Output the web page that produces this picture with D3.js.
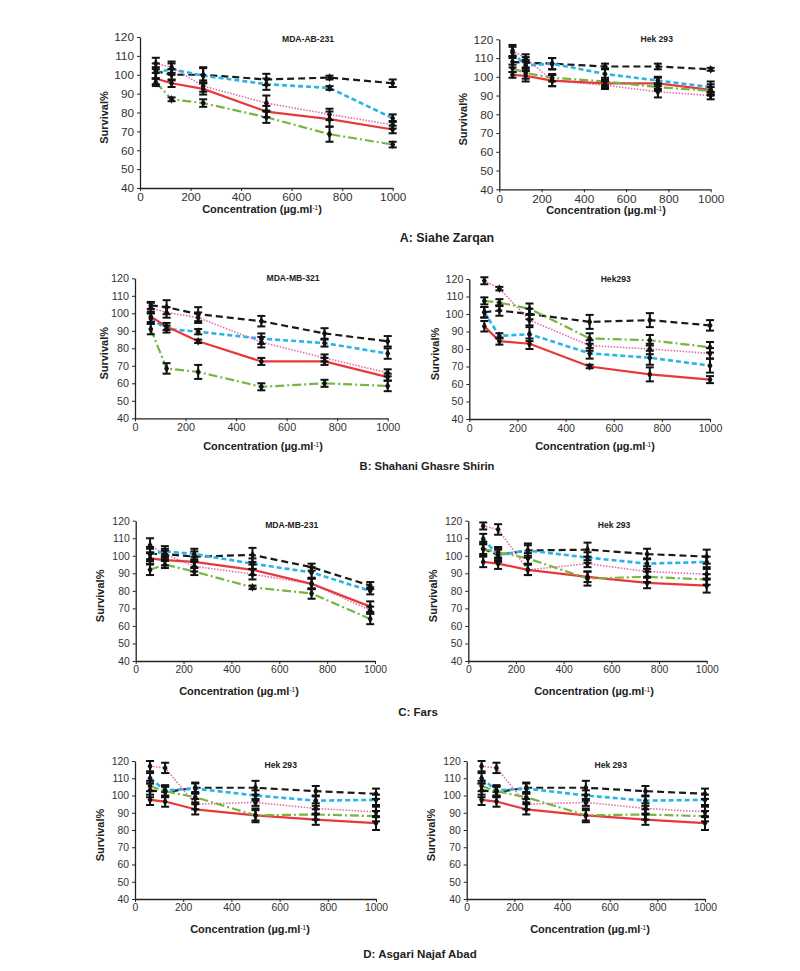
<!DOCTYPE html>
<html><head><meta charset="utf-8">
<script src="https://cdn.jsdelivr.net/npm/d3@7"></script>
<style>body{margin:0;background:#fff} text{font-family:"Liberation Sans",Arial,sans-serif}</style>
</head><body><svg id="c" width="800" height="971"></svg>
<script>
// ---------- DATA ----------
const doses = [62.5, 125, 250, 500, 750, 1000];
const dosesC = [60, 122, 245, 488, 735, 980];
const yTicks = [40, 50, 60, 70, 80, 90, 100, 110, 120];
const xTicks = [0, 200, 400, 600, 800, 1000];
const seriesNames = ["black", "cyan", "pink", "red", "green"];
const panelTitles = ["MDA-AB-231", "Hek 293", "MDA-MB-321", "Hek293", "MDA-MB-231", "Hek 293", "Hek 293", "Hek 293"];
const captions = ["A: Siahe Zarqan", "B: Shahani Ghasre Shirin", "C: Fars", "D: Asgari Najaf Abad"];

// values per series: black, cyan, pink, red, green
const aLeftVals = [[102,100,100,97.5,98.5,95.5],[101,103,99.5,95,93,77],[106,104,94,85,79,73.5],[98,95.5,92.5,80.5,76.5,71],[96,87,85,77.5,68.5,63]];
const aLeftErr  = [[4,3,4,3,1,2],[3,3,4,3,1,2],[3,3,3,4,3,2],[3,2,3,3,4,2],[2,1,2,3,4,1.5]];
const aRightVals = [[108,107.5,107,105.5,105.5,104],[113,106,107,101.5,98,94.5],[114,110,98,95.5,92,90],[101,100.5,98,96.5,96.5,93],[104.5,102,99.5,97.5,94.5,92.5]];
const aRightErr  = [[3,3,3,1.5,1.5,0.8],[3,3,3,3,2,3],[3,2,3,2,3,2],[1.5,3,3,2,3,3],[2,3,2,2,2,2]];
const bLeftVals = [[104.5,103.5,99.5,95.5,88.5,84],[97,91,89.5,85.5,83,77],[103,100.5,97.5,83.5,74.5,66],[98,92.5,84,72.5,72.5,63.5],[91,68.5,66.5,58,60,58.5]];
const bLeftErr  = [[2,4,4,3,3,3],[3,2,1.5,3,2,3],[3,3,3,3,2,2],[3,2,1,2,2,2],[3,3,4,2,2,3]];
const bRightVals = [[101,102,100,95.5,96.5,93.5],[101,87.5,88.5,77.5,75,70.5],[119,114.5,96.5,82,80,77.5],[93,84.5,83,70,65.5,62.5],[107.5,106.5,103,86,85,81]];
const bRightErr  = [[3,3,3,4,4,3],[3,1.5,4,3,4,4],[2,1,3,3,3,3],[3,2,3,1,4,2],[2,2,3,3,3,3]];
const cLeftVals = [[101,101,99.5,100.5,93.5,83],[101,102.5,101,95.5,90.5,80],[106,101,94,89.5,84,69],[98.5,97.5,96.5,92,84,71],[92,95,91,82,78.5,64]];
const cLeftErr  = [[4,3,3,4,2,2],[3,3,3,3,3,2],[4,2,3,3,3,2],[3,3,3,3,3,3],[3,2,2,1,3,3]];
const cRightVals = [[104,100.5,103,103.5,101,99.5],[109.5,100.5,103,99,95.5,96.5],[117,115,92,95.5,91,89.5],[96.5,95.5,92,88,84.5,83],[104,102,98.5,87,88,86.5]];
const cRightErr  = [[4,4,4,4,3,4],[3,3,3,3,3,3],[2,3,3,2,3,3],[3,3,3,3,3,4],[3,3,3,4,3,3]];
const dLeftVals = [[103,102,104.5,104.5,102.5,101],[110,103,104,100,97,97.5],[117,116,95,96,92.5,90.5],[97.5,96.5,92,88.5,86,84],[105.5,102.5,99,88.5,89,88]];
const dLeftErr  = [[4,3,3,4,3,3],[3,3,3,3,3,3],[3,3,3,2,3,3],[3,3,3,3,3,4],[3,3,3,4,3,3]];
const dRightVals = [[103,102,104.5,104.5,102.5,101],[110,103,104,100,97,97.5],[117,116,95,96,92.5,90.5],[97.5,96.5,92,88.5,86,84],[105.5,102.5,99,88.5,89,88]];
const dRightErr  = [[4,3,3,4,3,3],[3,3,3,3,3,3],[3,3,3,2,3,3],[3,3,3,3,3,4],[3,3,3,4,3,3]];

// ---------- STYLES / LAYOUT ----------
const styles = [
  {color:"#1a1a1a", width:2.2, dash:"7,4"},
  {color:"#29b4e6", width:2.6, dash:"5,3"},
  {color:"#e36bb0", width:1.6, dash:"1.5,1.5"},
  {color:"#e8383a", width:2.2, dash:null},
  {color:"#78b443", width:2.2, dash:"9,3,2,3"}
];
const panels = [
  {vals:aLeftVals, errs:aLeftErr, xs:doses, x0:140, x1:392.7, yT:37, yB:188, fs:11.8, tX:308, tY:39, ylX:104, xtX:262, xtY:209},
  {vals:aRightVals, errs:aRightErr, xs:doses, x0:499.3, x1:710.7, yT:39.3, yB:189.3, fs:11.8, tX:656.7, tY:39, ylX:463, xtX:606, xtY:210},
  {vals:bLeftVals, errs:bLeftErr, xs:doses, x0:135, x1:387.7, yT:278.3, yB:418.3, fs:10.8, tX:293, tY:278, ylX:104, xtX:263, xtY:446},
  {vals:bRightVals, errs:bRightErr, xs:doses, x0:469.3, x1:710, yT:279, yB:419, fs:10.6, tX:615.7, tY:279, ylX:435, xtX:595, xtY:446.5},
  {vals:cLeftVals, errs:cLeftErr, xs:dosesC, x0:135.7, x1:375, yT:520.7, yB:661, fs:10.4, tX:291.7, tY:525, ylX:100, xtX:239, xtY:691},
  {vals:cRightVals, errs:cRightErr, xs:doses, x0:468.3, x1:706.7, yT:520.7, yB:661, fs:10.4, tX:614, tY:525, ylX:433, xtX:594, xtY:691},
  {vals:dLeftVals, errs:dLeftErr, xs:doses, x0:135, x1:376, yT:761, yB:899, fs:10.4, tX:280.7, tY:765, ylX:100, xtX:250, xtY:929},
  {vals:dRightVals, errs:dRightErr, xs:doses, x0:466.7, x1:705, yT:761, yB:899, fs:10.4, tX:610.7, tY:765, ylX:431, xtX:590, xtY:929}
];
const captionPos = [{x:447, y:238, fs:12.4}, {x:427, y:466, fs:11.2}, {x:418, y:712, fs:11.5}, {x:420, y:954, fs:11.5}];

// ---------- DRAW ----------
const svg = d3.select("#c");
panels.forEach((p, pi) => {
  const g = svg.append("g");
  const x = d3.scaleLinear().domain([0, 1000]).range([p.x0, p.x1]);
  const y = d3.scaleLinear().domain([40, 120]).range([p.yB, p.yT]);

  const ya = g.append("g").attr("transform", `translate(${p.x0},0)`)
    .call(d3.axisLeft(y).tickValues(yTicks).tickFormat(d3.format("d")).tickSize(3).tickPadding(3).tickSizeOuter(0));
  const xa = g.append("g").attr("transform", `translate(0,${p.yB})`)
    .call(d3.axisBottom(x).tickValues(xTicks).tickFormat(d3.format("d")).tickSize(3).tickPadding(2).tickSizeOuter(0));
  [ya, xa].forEach(a => {
    a.select(".domain").attr("stroke", "#222").attr("stroke-width", 1.3);
    a.selectAll(".tick line").attr("stroke", "#222");
    a.selectAll(".tick text").attr("fill", "#333").style("font-size", p.fs + "px")
      .style("font-family", '"Liberation Sans",Arial,sans-serif');
  });

  // lines
  p.vals.forEach((vals, si) => {
    const st = styles[si];
    const pts = vals.map((v, i) => [p.xs[i], v]);
    g.append("path").datum(pts)
      .attr("fill", "none").attr("stroke", st.color).attr("stroke-width", st.width)
      .attr("stroke-dasharray", st.dash).attr("stroke-linejoin", "round")
      .attr("d", d3.line().x(d => x(d[0])).y(d => y(d[1])));
  });
  // error bars + markers
  p.vals.forEach((vals, si) => {
    vals.forEach((v, i) => {
      const e = p.errs[si][i];
      const cx = x(p.xs[i]);
      const eg = g.append("g").attr("stroke", "#111").attr("stroke-width", 2);
      eg.append("line").attr("x1", cx).attr("x2", cx).attr("y1", y(v - e)).attr("y2", y(v + e));
      eg.append("line").attr("x1", cx - 4).attr("x2", cx + 4).attr("y1", y(v - e)).attr("y2", y(v - e));
      eg.append("line").attr("x1", cx - 4).attr("x2", cx + 4).attr("y1", y(v + e)).attr("y2", y(v + e));
      g.append("path").attr("transform", `translate(${cx},${y(v)})`)
        .attr("d", d3.symbol(d3.symbolDiamond, 22)()).attr("fill", "#111");
    });
  });

  // titles
  g.append("text").attr("x", p.tX).attr("y", p.tY).attr("dy", "0.35em").attr("text-anchor", "middle")
    .style("font-size", "8.6px").style("font-weight", "bold").attr("fill", "#222").text(panelTitles[pi]);
  const ymid = (p.yT + p.yB) / 2 + 5;
  g.append("text").attr("transform", `translate(${p.ylX},${ymid}) rotate(-90)`).attr("dy", "0.35em")
    .attr("text-anchor", "middle").style("font-size", "11px").style("font-weight", "bold").attr("fill", "#222")
    .text("Survival%");
  const xt = g.append("text").attr("x", p.xtX).attr("y", p.xtY).attr("dy", "0.35em").attr("text-anchor", "middle")
    .style("font-size", "11px").style("font-weight", "bold").attr("fill", "#222");
  xt.append("tspan").text("Concentration (µg.ml");
  xt.append("tspan").attr("baseline-shift", "super").style("font-size", "6.5px").style("font-weight", "normal").text("-1");
  xt.append("tspan").text(")");
});

captions.forEach((c, i) => {
  const cp = captionPos[i];
  svg.append("text").attr("x", cp.x).attr("y", cp.y).attr("dy", "0.35em").attr("text-anchor", "middle")
    .style("font-size", cp.fs + "px").style("font-weight", "bold").attr("fill", "#222").text(c);
});
</script></body></html>
